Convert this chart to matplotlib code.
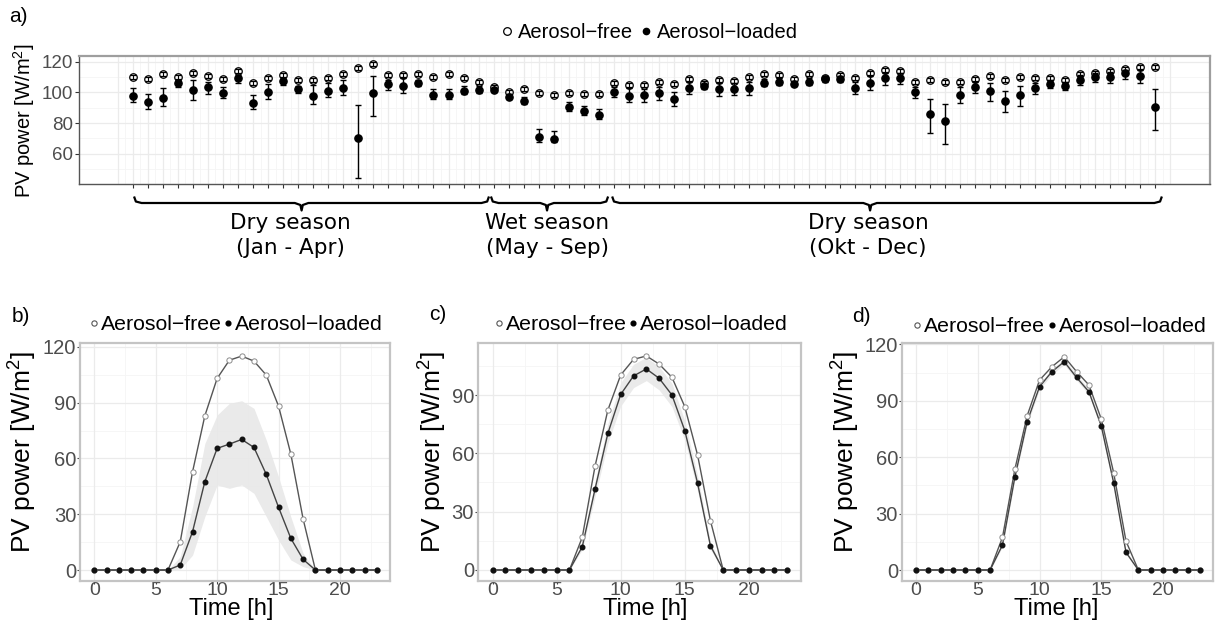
import matplotlib
matplotlib.use('Agg')
import matplotlib.pyplot as plt
import numpy as np
from matplotlib.lines import Line2D

plt.rcParams['font.family'] = ['Liberation Sans', 'DejaVu Sans']
plt.rcParams['mathtext.fontset'] = 'custom'
plt.rcParams['mathtext.rm'] = 'Liberation Sans'
plt.rcParams['mathtext.it'] = 'Liberation Sans:italic'
plt.rcParams['mathtext.bf'] = 'Liberation Sans:bold'

# ---------------- data: panel a (daily means, 69 days) ----------------
free_daily = [109.8, 108.5, 111.7, 109.8, 112.6, 110.4, 108.7, 114.1, 105.9, 109.1,
              111.3, 108.3, 108.3, 109.1, 112.2, 116.1, 118.3, 111.1, 111.3, 111.7,
              110.2, 112.2, 109.1, 107.0, 103.7, 100.4, 102.0, 99.6, 98.0, 99.3,
              99.1, 99.1, 106.1, 104.6, 104.6, 107.0, 105.4, 108.7, 105.9, 108.0,
              107.6, 110.2, 112.0, 111.3, 108.7, 111.7, 109.3, 111.3, 109.3, 112.8,
              114.3, 113.9, 106.5, 107.8, 106.5, 106.5, 108.5, 110.4, 108.3, 109.8,
              109.3, 109.1, 108.0, 112.0, 112.8, 114.1, 115.2, 116.3, 116.3]
loaded_daily = [97.8, 93.9, 96.3, 106.3, 101.5, 103.7, 99.8, 109.3, 93.3, 100.2,
                107.4, 102.2, 97.8, 101.1, 102.8, 70.4, 99.6, 105.4, 104.3, 105.9,
                98.5, 98.5, 101.1, 101.7, 101.5, 97.2, 94.6, 70.9, 69.6, 90.4,
                87.8, 85.2, 100.2, 97.8, 98.5, 99.6, 95.7, 103.0, 103.9, 102.2,
                102.2, 103.0, 105.9, 106.7, 105.4, 106.7, 108.5, 108.7, 102.8, 106.1,
                109.6, 109.6, 100.2, 86.1, 81.5, 98.5, 103.7, 101.1, 94.6, 98.5,
                102.8, 105.7, 104.3, 108.3, 109.8, 110.2, 112.4, 110.9, 90.4]
loaded_lo = [93.7, 89.3, 91.1, 103.5, 95.2, 99.1, 96.1, 106.1, 89.1, 95.7,
             104.8, 99.3, 92.6, 97.2, 98.3, 44.6, 84.8, 101.3, 99.6, 103.9,
             95.9, 95.4, 98.7, 99.8, 100.0, 95.7, 92.4, 68.0, 67.6, 87.8,
             85.4, 82.8, 96.7, 93.5, 93.9, 95.2, 91.1, 98.7, 102.4, 97.6,
             98.0, 98.0, 104.3, 105.0, 104.1, 105.0, 106.7, 107.0, 98.7, 101.3,
             105.0, 105.7, 96.5, 73.5, 66.7, 93.0, 99.3, 94.6, 87.0, 91.3,
             98.7, 102.6, 101.5, 104.6, 106.5, 106.3, 108.9, 106.1, 75.4]
loaded_hi = [102.6, 98.7, 103.0, 108.0, 108.0, 106.7, 103.7, 111.3, 98.5, 105.7,
             108.9, 104.3, 104.6, 105.9, 107.8, 91.7, 110.9, 108.0, 109.1, 108.0,
             102.0, 102.0, 104.3, 104.3, 103.0, 98.7, 97.2, 75.9, 74.8, 93.5,
             91.3, 89.3, 103.7, 103.0, 102.2, 103.5, 100.4, 106.5, 105.2, 105.9,
             105.9, 106.5, 108.7, 109.1, 107.2, 109.3, 110.4, 110.4, 106.5, 110.7,
             112.6, 112.8, 103.7, 95.4, 92.2, 103.5, 106.7, 106.1, 101.1, 104.3,
             106.3, 108.0, 106.5, 111.1, 112.6, 113.0, 114.8, 114.6, 102.0]
free_sd = 1.3

season_names = ['Dry season', 'Wet season', 'Dry season']
season_months = ['(Jan - Apr)', '(May - Sep)', '(Okt - Dec)']
season_start = [0.09, 23.82, 31.88]
season_end = [23.69, 31.61, 68.43]
season_tip = [11.23, 27.55, 49.03]
season_text_x = [10.46, 27.55, 48.9]

# ---------------- data: panels b, c, d (hourly) ----------------
hours = list(range(24))
b_free = [0, 0, 0, 0, 0, 0, 0, 15.2, 52.8, 82.9, 103.0, 112.8, 115.0, 112.3, 104.8, 88.1, 62.3, 27.4, 0, 0, 0, 0, 0, 0]
b_loaded = [0, 0, 0, 0, 0, 0, 0, 2.7, 20.6, 47.5, 65.4, 67.7, 70.2, 65.9, 51.4, 33.7, 17.0, 5.7, 0, 0, 0, 0, 0, 0]
b_lo = [0, 0, 0, 0, 0, 0, 0, 0.5, 8.0, 28.7, 45.7, 43.9, 45.7, 41.2, 28.7, 16.1, 5.4, 1.8, 0, 0, 0, 0, 0, 0]
b_hi = [0, 0, 0, 0, 0, 0, 0, 7.2, 34.0, 68.0, 83.3, 89.6, 91.0, 86.9, 69.9, 50.1, 28.6, 9.0, 0, 0, 0, 0, 0, 0]

c_free = [0, 0, 0, 0, 0, 0, 0, 16.8, 53.5, 82.3, 100.3, 108.3, 110.1, 105.9, 99.1, 84.0, 59.1, 25.4, 0, 0, 0, 0, 0, 0]
c_loaded = [0, 0, 0, 0, 0, 0, 0, 12.0, 41.7, 70.3, 90.3, 99.8, 103.4, 98.6, 90.0, 71.7, 44.6, 12.5, 0, 0, 0, 0, 0, 0]
c_lo = [0, 0, 0, 0, 0, 0, 0, 10.5, 37.7, 65.3, 84.3, 93.8, 97.4, 92.6, 84.0, 66.7, 40.6, 10.5, 0, 0, 0, 0, 0, 0]
c_hi = [0, 0, 0, 0, 0, 0, 0, 13.5, 45.7, 75.3, 96.3, 105.8, 109.4, 104.6, 96.0, 76.7, 48.6, 14.5, 0, 0, 0, 0, 0, 0]

d_free = [0, 0, 0, 0, 0, 0, 0, 17.4, 53.5, 82.1, 101.0, 108.1, 113.4, 105.5, 98.4, 80.3, 51.8, 15.4, 0, 0, 0, 0, 0, 0]
d_loaded = [0, 0, 0, 0, 0, 0, 0, 13.3, 49.3, 78.9, 97.5, 105.5, 110.8, 102.4, 94.8, 76.6, 46.4, 9.4, 0, 0, 0, 0, 0, 0]
d_lo = [0, 0, 0, 0, 0, 0, 0, 12.3, 47.8, 77.4, 96.0, 104.0, 109.3, 100.9, 93.3, 75.1, 44.9, 8.4, 0, 0, 0, 0, 0, 0]
d_hi = [0, 0, 0, 0, 0, 0, 0, 14.3, 50.8, 80.4, 99.0, 107.0, 112.3, 103.9, 96.3, 78.1, 47.9, 10.4, 0, 0, 0, 0, 0, 0]

# ---------------- layout helpers ----------------
W, H = 1221, 624
fig = plt.figure(figsize=(W / 100, H / 100), dpi=100)


def fx(p):
    return p / W


def fy(p):
    return 1 - p / H


def rect(l, t, r, b):
    return [fx(l), fy(b), (r - l) / W, (b - t) / H]


TICKC = '#4D4D4D'
MAJ = '#EBEBEB'
MIN = '#F5F5F5'
LEG = ['Aerosol\u2212free', 'Aerosol\u2212loaded']

# ---------------- panel a ----------------
ax = fig.add_axes(rect(79, 56, 1210, 183.5))
n = len(free_daily)
idx = np.arange(n)
ax.set_xlim(-3.57, 71.63)
ax.set_ylim(40.7, 123.7)
for x in np.arange(-0.5, 69.0, 1.0):
    ax.axvline(x, color=MIN, lw=0.6, zorder=0)
for y in [50, 70, 90, 110]:
    ax.axhline(y, color=MIN, lw=0.6, zorder=0)
for x in np.arange(-1, 70):
    ax.axvline(x, color=MAJ, lw=0.9, zorder=0.5)
for y in [60, 80, 100, 120]:
    ax.axhline(y, color=MAJ, lw=0.9, zorder=0.5)

lo = np.array(loaded_lo)
hi = np.array(loaded_hi)
ld = np.array(loaded_daily)
ax.errorbar(idx, ld, yerr=[ld - lo, hi - ld], fmt='o', color='black', ms=5.2,
            capsize=2.2, elinewidth=1.0, capthick=1.0, zorder=3)
ax.errorbar(idx, free_daily, yerr=free_sd, fmt='o', mfc='none', mec='black', mew=0.9,
            ecolor='black', ms=5.4, capsize=2.0, elinewidth=0.8, capthick=0.8, zorder=4)

ax.set_xticks(idx)
ax.set_xticklabels([])
ax.set_yticks([60, 80, 100, 120])
ax.tick_params(axis='both', length=3, width=0.8, color='#333333', labelsize=13.5,
               labelcolor=TICKC, pad=1)
for s in ['top', 'right']:
    ax.spines[s].set_color('#9E9E9E')
    ax.spines[s].set_linewidth(1.6)
for s in ['left', 'bottom']:
    ax.spines[s].set_color('#555555')
    ax.spines[s].set_linewidth(1.0)
fig.text(fx(24), fy(121), 'PV power [W/m$^{2}$]', rotation=90, ha='center', va='center',
         fontsize=14.5)
fig.text(fx(9), fy(16), 'a)', ha='left', va='center', fontsize=15)

h_free = Line2D([], [], marker='o', ls='none', mfc='none', mec='black', mew=0.9, ms=5.5)
h_load = Line2D([], [], marker='o', ls='none', color='black', ms=4.5)
fig.legend([h_free, h_load], LEG, loc='center', bbox_to_anchor=(fx(649), fy(33)), ncol=2,
           frameon=False, fontsize=14.5, handlelength=0.7, handletextpad=0.2,
           columnspacing=0.25, borderpad=0, borderaxespad=0)

# ---------------- season brackets ----------------
bax = fig.add_axes(rect(79, 184, 1210, 275))
bax.set_xlim(-3.57, 71.63)
bax.set_ylim(275, 184)
bax.axis('off')
for x0, x1, xc, xt, nm, mo in zip(season_start, season_end, season_tip, season_text_x,
                                  season_names, season_months):
    bx = [x0, x0 + 0.12, x0 + 0.5, xc - 0.45, xc - 0.08, xc, xc + 0.08, xc + 0.45,
          x1 - 0.5, x1 - 0.12, x1]
    by = [196.5, 201.5, 203, 203, 205, 210.5, 205, 203, 203, 201.5, 196.5]
    bax.plot(bx, by, color='black', lw=1.6, solid_capstyle='butt')
    bax.text(xt, 223, nm, ha='center', va='center', fontsize=15.5, family='DejaVu Sans')
    bax.text(xt, 248, mo, ha='center', va='center', fontsize=15.5, family='DejaVu Sans')


# ---------------- panels b, c, d ----------------
def hourly(box, fr, ld_, lo_, hi_, ylim, yticks, tag, tagpos, legx, legy, ylabx, timex):
    a = fig.add_axes(rect(*box))
    a.set_xlim(-1.16, 24.07)
    a.set_ylim(*ylim)
    for x in [2.5, 7.5, 12.5, 17.5, 22.5]:
        a.axvline(x, color=MIN, lw=0.6, zorder=0)
    for y in [15, 45, 75, 105]:
        a.axhline(y, color=MIN, lw=0.6, zorder=0)
    for x in [0, 5, 10, 15, 20]:
        a.axvline(x, color=MAJ, lw=0.9, zorder=0.5)
    for y in [0, 30, 60, 90, 120]:
        a.axhline(y, color=MAJ, lw=0.9, zorder=0.5)
    a.fill_between(hours, lo_, hi_, color='#E8E8E8', alpha=0.9, lw=0, zorder=1)
    a.plot(hours, fr, color='#555555', lw=1.0, zorder=2)
    a.plot(hours, fr, 'o', ls='none', mfc='white', mec='#8C8C8C', mew=0.7, ms=3.8, zorder=3)
    a.plot(hours, ld_, color='#444444', lw=1.0, zorder=2)
    a.plot(hours, ld_, 'o', ls='none', color='#111111', ms=3.3, zorder=3)
    a.set_xticks([0, 5, 10, 15, 20])
    a.set_yticks(yticks)
    a.tick_params(axis='y', length=2.2, width=0.8, color='#444444', labelsize=14.5,
                  labelcolor=TICKC, pad=0.5)
    a.tick_params(axis='x', length=2.0, width=0.8, color='#444444', labelsize=14,
                  labelcolor=TICKC, pad=-1.5)
    for s in a.spines.values():
        s.set_color('#C4C4C4')
        s.set_linewidth(1.6)
    fig.text(fx(ylabx), fy(452), 'PV power [W/m$^{2}$]', rotation=90, ha='center',
             va='center', fontsize=19)
    fig.text(fx(timex), fy(608.5), 'Time [h]', ha='center', va='center', fontsize=17)
    fig.text(fx(tagpos[0]), fy(tagpos[1]), tag, ha='left', va='center', fontsize=15)
    hf = Line2D([], [], marker='o', ls='none', mfc='white', mec='#555555', mew=0.8, ms=3.8)
    hl = Line2D([], [], marker='o', ls='none', color='black', ms=3.4)
    fig.legend([hf, hl], LEG, loc='center', bbox_to_anchor=(fx(legx), fy(legy)), ncol=2,
               frameon=False, fontsize=15.3, handlelength=0.45, handletextpad=0.1,
               columnspacing=0.1, borderpad=0, borderaxespad=0)
    return a


hourly((80, 342.7, 390, 581), b_free, b_loaded, b_lo, b_hi, (-5.9, 122.2),
       [0, 30, 60, 90, 120], 'b)', (12, 317), 236, 325, 23, 231)
hourly((477.7, 342.7, 801, 581), c_free, c_loaded, c_lo, c_hi, (-5.66, 116.9),
       [0, 30, 60, 90], 'c)', (429, 314), 641, 325, 433, 645)
hourly((901.7, 342.7, 1213.3, 581), d_free, d_loaded, d_lo, d_hi, (-5.85, 120.9),
       [0, 30, 60, 90, 120], 'd)', (852, 316), 1059.5, 326.7, 846, 1056)

fig.savefig('out.png', dpi=100)
